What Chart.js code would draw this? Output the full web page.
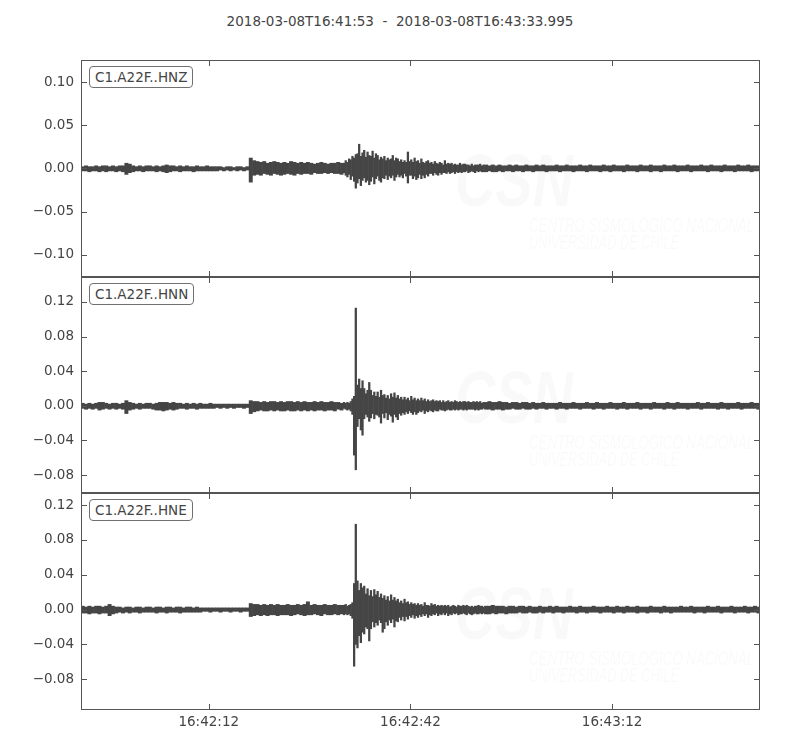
<!DOCTYPE html>
<html>
<head>
<meta charset="utf-8">
<script src="https://cdn.jsdelivr.net/npm/chart.js@4.4.1/dist/chart.umd.min.js"></script>
<style>
  html, body { margin: 0; padding: 0; background: #fff; overflow: hidden; }
  #wrap { position: relative; width: 800px; height: 750px; font-family: 'DejaVu Sans', sans-serif; color: #444; }
  .title { position: absolute; top: 13px; left: 0; width: 800px; text-align: center; font-size: 13.5px; line-height: 16px; white-space: pre; }
  .panel { position: absolute; left: 0; }
  .trace-lbl { position: absolute; left: 89px; font-size: 13.5px; line-height: 16px; padding: 2px 5px; border: 1px solid #707070; border-radius: 4px; background: #fff; z-index: 5; }
</style>
</head>
<body>
<div id="wrap">
  <div class="title">2018-03-08T16:41:53  -  2018-03-08T16:43:33.995</div>
</div>
<script>
// Min/max envelope of each trace, in units of 1e-3.
// Before 39 s and after 60 s: one bin per 0.5 s. The strong shaking in between: one bin per 0.25 s.
const COARSE_SEC = 0.5;
const FINE_SEC = 0.25;
const FINE_START = 39;
const FINE_END = 60;
const T_END = 100.995;

const xTickSec = [19, 49, 79];
const xTickLabels = ['16:42:12', '16:42:42', '16:43:12'];

const yTicksZ = [-0.10, -0.05, 0, 0.05, 0.10];
const yTicksNE = [-0.08, -0.04, 0, 0.04, 0.08, 0.12];

// ---- HNZ ----
const hnzPreHi = [
  2,3,2,2,3,2,3,3,2,3,2,3,3,6,5,3,2,3,2,3,
  3,2,3,2,3,4,3,3,2,3,2,3,2,2,3,2,2,3,2,2,
  2,2,1,2,2,1,2,2,1,2,12,9,8,7,8,6,7,8,7,6,
  7,6,8,7,6,7,6,7,6,5,6,7,6,5,6,6,7,6
];
const hnzPreLo = [
  -3,-3,-4,-3,-3,-4,-3,-4,-3,-3,-4,-3,-4,-7,-5,-4,-3,-3,-4,-3,
  -3,-3,-4,-3,-4,-5,-4,-3,-3,-4,-3,-3,-3,-4,-3,-3,-3,-3,-3,-3,
  -3,-2,-3,-2,-3,-2,-3,-2,-3,-2,-16,-8,-7,-8,-6,-7,-8,-6,-7,-8,
  -7,-6,-7,-8,-6,-7,-6,-6,-7,-5,-6,-6,-5,-6,-5,-6,-6,-7
];
const hnzFineHi = [
  6,9,7,11, 10,14,12,16, 17,28,14,18, 21,13,19,15, 14,20,12,17, 15,10,13,11,
  14,9,12,10, 11,15,9,12, 11,8,10,7, 9,7,19,8, 10,7,12,8, 9,6,11,7,
  6,8,9,6, 7,5,8,6, 5,7,6,4, 9,5,6,5, 6,4,5,4, 4,6,4,5, 5,4,4,3, 5,3,4,4, 4,5,3,4
];
const hnzFineLo = [
  -5,-8,-10,-7, -13,-9,-15,-23, -17,-12,-20,-14, -11,-16,-14,-19, -15,-10,-18,-12, -9,-14,-16,-11,
  -12,-8,-13,-9, -11,-8,-14,-10, -7,-10,-8,-11, -6,-9,-17,-8, -8,-12,-9,-13, -11,-7,-12,-8,
  -11,-7,-9,-6, -6,-8,-5,-7, -8,-5,-7,-5, -5,-6,-4,-6, -5,-4,-6,-4, -5,-4,-5,-4, -4,-3,-5,-4, -3,-4,-5,-3, -4,-3,-4,-4
];
const hnzPostHi = [
  4,3,4,3,4,3,3,4,3,4,3,3,4,3,3,4,3,4,3,3,
  3,4,3,3,4,3,3,3,4,3,3,4,3,3,3,4,3,3,4,3,
  3,3,4,3,3,3,4,3,3,4,3,3,3,4,3,3,4,3,3,3,
  4,3,3,3,4,3,3,4,3,3,3,4,3,3,3,4,3,3,4,3,
  3,3
];
const hnzPostLo = [
  -4,-3,-4,-4,-3,-4,-3,-3,-4,-3,-3,-4,-3,-3,-4,-3,-3,-3,-4,-3,
  -3,-3,-4,-3,-3,-3,-4,-3,-3,-3,-4,-3,-3,-3,-4,-3,-3,-4,-3,-3,
  -3,-4,-3,-3,-3,-4,-3,-3,-3,-4,-3,-3,-4,-3,-3,-3,-3,-4,-3,-3,
  -3,-4,-3,-3,-3,-3,-4,-3,-3,-3,-4,-3,-3,-3,-4,-3,-3,-3,-3,-4,
  -3,-3
];

// ---- HNN ----
const hnnPreHi = [
  3,2,3,2,3,4,4,3,2,3,3,2,3,6,4,3,2,3,2,3,
  3,2,3,4,4,4,3,4,3,3,2,3,2,3,2,3,2,2,3,2,
  2,2,2,2,2,2,2,2,2,2,6,5,5,4,5,4,5,5,4,5,
  4,5,5,4,5,4,5,4,4,5,4,5,4,4,5,4,4,3
];
const hnnPreLo = [
  -3,-4,-3,-4,-3,-5,-4,-3,-4,-3,-4,-3,-4,-9,-5,-4,-3,-4,-3,-3,
  -3,-4,-5,-5,-6,-5,-4,-5,-4,-3,-3,-4,-3,-3,-4,-3,-3,-3,-3,-3,
  -2,-3,-2,-3,-2,-3,-2,-2,-3,-2,-9,-7,-6,-5,-6,-6,-5,-6,-5,-6,
  -6,-5,-6,-6,-5,-6,-5,-6,-5,-6,-5,-5,-6,-5,-5,-6,-4,-5
];
const hnnFineHi = [
  4,3,4,3, 5,8,11,113, 24,31,20,29, 20,14,18,27, 18,12,16,11, 16,10,18,12,
  13,9,12,8, 14,10,15,9, 12,8,10,7, 10,7,9,6, 11,7,9,6, 8,6,9,6,
  8,5,7,5, 6,7,5,6, 5,6,4,6, 4,5,6,4, 5,4,6,5, 4,5,4,5, 5,4,5,4, 4,5,4,5, 4,5,3,4
];
const hnnFineLo = [
  -3,-4,-5,-4, -6,-10,-57,-74, -24,-15,-28,-34, -15,-10,-13,-18, -14,-9,-15,-10, -11,-13,-20,-9,
  -14,-8,-16,-10, -12,-19,-10,-13, -16,-9,-11,-8, -10,-7,-9,-6, -8,-10,-7,-10, -8,-6,-7,-5,
  -9,-6,-7,-5, -6,-7,-5,-6, -6,-4,-5,-5, -6,-5,-4,-5, -5,-4,-5,-4, -5,-4,-4,-5, -4,-5,-4,-4, -4,-4,-5,-4, -5,-4,-4,-3
];
const hnnPostHi = [
  4,5,4,4,5,4,4,3,4,4,3,4,4,3,4,3,3,4,3,3,
  3,3,4,3,3,3,4,3,3,3,4,3,3,4,3,3,3,4,3,3,
  3,4,3,3,3,4,3,3,3,3,4,3,3,3,4,3,3,4,3,3,
  3,3,3,4,3,3,4,3,3,3,4,3,3,3,3,4,3,3,3,4,
  3,3
];
const hnnPostLo = [
  -4,-4,-5,-4,-4,-5,-4,-4,-3,-4,-4,-3,-4,-4,-3,-4,-3,-3,-4,-3,
  -3,-4,-3,-3,-4,-3,-3,-3,-4,-3,-3,-3,-4,-3,-3,-4,-3,-3,-3,-4,
  -3,-3,-4,-3,-3,-3,-4,-3,-3,-4,-3,-3,-3,-4,-3,-3,-4,-3,-3,-3,
  -4,-3,-3,-3,-4,-3,-3,-3,-3,-4,-3,-3,-4,-3,-3,-3,-4,-3,-3,-3,
  -3,-4
];

// ---- HNE ----
const hnePreHi = [
  4,3,4,3,4,4,3,4,6,4,3,3,2,3,3,2,3,3,2,3,
  3,2,3,3,2,3,3,2,3,3,2,3,3,2,3,2,2,2,2,2,
  2,2,2,2,2,2,2,2,2,2,7,6,6,5,6,5,6,5,6,5,
  5,6,5,5,6,5,6,9,5,6,5,5,6,5,5,6,5,5
];
const hnePreLo = [
  -4,-4,-5,-4,-4,-5,-4,-4,-7,-5,-4,-3,-4,-3,-4,-3,-3,-4,-3,-3,
  -3,-3,-4,-3,-3,-4,-3,-3,-3,-4,-3,-3,-3,-3,-3,-3,-2,-2,-3,-2,
  -2,-3,-2,-2,-3,-2,-2,-3,-2,-2,-8,-7,-6,-7,-6,-7,-6,-6,-7,-6,
  -6,-6,-7,-6,-5,-6,-7,-6,-6,-5,-6,-7,-5,-6,-6,-5,-6,-5
];
const hneFineHi = [
  5,6,4,5, 6,8,30,98, 33,22,30,25, 27,18,24,16, 22,15,23,17, 21,14,18,13,
  16,11,15,10, 17,11,14,10, 12,8,10,7, 12,8,9,6, 8,6,7,5, 7,5,6,4,
  8,5,5,4, 7,5,6,4, 5,4,5,4, 5,4,5,3, 4,5,4,3, 5,4,4,5, 4,5,4,3, 4,3,4,4, 5,4,4,3
];
const hneFineLo = [
  -6,-5,-6,-5, -7,-10,-65,-40, -44,-30,-38,-26, -28,-20,-22,-36, -22,-14,-20,-15, -18,-12,-15,-26,
  -22,-14,-18,-12, -15,-11,-20,-13, -14,-9,-12,-8, -13,-8,-11,-7, -9,-6,-10,-7, -9,-6,-8,-5,
  -7,-5,-9,-6, -7,-5,-6,-4, -7,-5,-6,-4, -6,-4,-7,-5, -6,-4,-5,-4, -6,-5,-5,-4, -5,-6,-4,-5, -6,-5,-4,-5, -5,-4,-5,-4
];
const hnePostHi = [
  4,4,5,4,4,4,3,4,4,3,4,4,3,4,3,3,4,3,3,4,
  3,4,3,3,3,4,3,3,4,3,3,3,4,3,3,3,4,3,3,4,
  3,3,4,3,3,4,3,3,3,4,3,3,3,4,3,3,3,3,4,3,
  3,4,3,3,3,3,4,3,3,4,3,3,3,4,3,3,3,4,3,3,
  4,3
];
const hnePostLo = [
  -5,-5,-4,-5,-4,-4,-5,-4,-4,-4,-3,-4,-4,-3,-4,-4,-3,-4,-3,-3,
  -4,-3,-3,-4,-3,-3,-3,-4,-3,-3,-4,-3,-3,-3,-4,-3,-3,-3,-4,-3,
  -3,-4,-3,-3,-3,-4,-3,-3,-4,-3,-3,-3,-4,-3,-3,-4,-3,-3,-3,-3,
  -3,-3,-4,-3,-3,-4,-3,-3,-3,-3,-4,-3,-3,-3,-4,-3,-3,-3,-4,-3,
  -3,-4
];

const FONT = "'DejaVu Sans', sans-serif";
const TXT = '#444';
const WAVE = '#454545';
const FRAME = '#555';
const PAD = 16;

const traces = [
  { id: 'C1.A22F..HNZ', pre: [hnzPreHi, hnzPreLo], fine: [hnzFineHi, hnzFineLo], post: [hnzPostHi, hnzPostLo],
    yMin: -0.1258, yMax: 0.1255, yTicks: yTicksZ, top: 60, h: 217 },
  { id: 'C1.A22F..HNN', pre: [hnnPreHi, hnnPreLo], fine: [hnnFineHi, hnnFineLo], post: [hnnPostHi, hnnPostLo],
    yMin: -0.1008, yMax: 0.1489, yTicks: yTicksNE, top: 277, h: 216 },
  { id: 'C1.A22F..HNE', pre: [hnePreHi, hnePreLo], fine: [hneFineHi, hneFineLo], post: [hnePostHi, hnePostLo],
    yMin: -0.1152, yMax: 0.1338, yTicks: yTicksNE, top: 493, h: 217 },
];

// min-max bars, like obspy draws long traces: one floating bar per bin
function bins([hi, lo], t0, step) {
  return hi.map((h, i) => ({ x: t0 + i * step + step / 2, y: [lo[i] / 1000, h / 1000] }));
}

function fmtY(v) {
  const s = Math.abs(v).toFixed(2);
  return v < -1e-9 ? '\u2212' + s : s;
}

function squashText(ctx, text, x, y, w) {
  const m = ctx.measureText(text).width;
  ctx.save();
  ctx.translate(x, y);
  ctx.scale(w / m, 1);
  ctx.fillText(text, 0, 0);
  ctx.restore();
}

// faint CSN watermark behind the trace
const csnMark = {
  id: 'csnMark',
  beforeDatasetsDraw(chart) {
    const { ctx, chartArea: a } = chart;
    ctx.save();
    ctx.fillStyle = 'rgba(0,0,0,0.022)';
    ctx.font = 'italic bold 74px "Liberation Sans"';
    squashText(ctx, 'CSN', a.left + 374, a.top + 146, 118);
    ctx.font = 'italic 20px "Liberation Sans"';
    squashText(ctx, 'CENTRO SISMOLÓGICO NACIONAL', a.left + 448, a.top + 172, 225);
    squashText(ctx, 'UNIVERSIDAD DE CHILE', a.left + 448, a.top + 189, 150);
    ctx.restore();
  }
};

// box round the axes with inward ticks on all four sides
const frameTicks = {
  id: 'frameTicks',
  afterDraw(chart) {
    const { ctx, chartArea: a, scales: { x, y } } = chart;
    const L = Math.round(a.left) + 0.5, R = Math.round(a.right) - 0.5;
    const T = Math.round(a.top) + 0.5, B = Math.round(a.bottom) - 0.5;
    const len = 5.5;
    ctx.save();
    ctx.strokeStyle = FRAME;
    ctx.lineWidth = 1;
    ctx.strokeRect(L, T, R - L, B - T);
    ctx.beginPath();
    x.ticks.forEach(t => {
      const px = Math.round(x.getPixelForValue(t.value)) + 0.5;
      ctx.moveTo(px, T); ctx.lineTo(px, T + len);
      ctx.moveTo(px, B); ctx.lineTo(px, B - len);
    });
    y.ticks.forEach(t => {
      const py = Math.round(y.getPixelForValue(t.value)) + 0.5;
      ctx.moveTo(L, py); ctx.lineTo(L + len, py);
      ctx.moveTo(R, py); ctx.lineTo(R - len, py);
    });
    ctx.stroke();
    ctx.restore();
  }
};

function renderTrace(wrap, tr, isLast) {
  const axisH = isLast ? 40 : 0;
  const canvasTop = tr.top - PAD;
  const canvasH = PAD + tr.h + (isLast ? axisH : PAD);

  const canvas = document.createElement('canvas');
  canvas.className = 'panel';
  canvas.width = 800;
  canvas.height = canvasH;
  canvas.style.top = canvasTop + 'px';
  canvas.style.width = '800px';
  canvas.style.height = canvasH + 'px';
  wrap.appendChild(canvas);

  const lbl = document.createElement('div');
  lbl.className = 'trace-lbl';
  lbl.style.top = (tr.top + 6) + 'px';
  lbl.textContent = tr.id;
  wrap.appendChild(lbl);

  const coarse = bins(tr.pre, 0, COARSE_SEC).concat(bins(tr.post, FINE_END, COARSE_SEC));
  const fine = bins(tr.fine, FINE_START, FINE_SEC);
  const barStyle = { backgroundColor: WAVE, borderWidth: 0, categoryPercentage: 1, grouped: false, inflateAmount: 0.3 };

  new Chart(canvas.getContext('2d'), {
    type: 'bar',
    data: {
      datasets: [
        // bar width follows the 0.25 s spacing, so the half-second bins are drawn twice as wide
        { ...barStyle, data: coarse, barPercentage: COARSE_SEC / FINE_SEC },
        { ...barStyle, data: fine, barPercentage: 1 },
      ],
    },
    options: {
      responsive: false,
      animation: false,
      events: [],
      layout: { padding: { top: PAD, bottom: isLast ? 0 : PAD, left: 0, right: 40 } },
      plugins: { legend: { display: false }, tooltip: { enabled: false } },
      scales: {
        x: {
          type: 'linear',
          min: 0,
          max: T_END,
          offset: false,
          grid: { display: false, drawTicks: false, offset: false },
          border: { display: false },
          afterBuildTicks: (s) => { s.ticks = xTickSec.map(v => ({ value: v })); },
          afterFit: (s) => { s.height = axisH; },
          ticks: {
            display: isLast,
            padding: 4,
            maxRotation: 0,
            color: TXT,
            font: { family: FONT, size: 13.5 },
            callback: (v) => xTickLabels[xTickSec.indexOf(v)],
          },
        },
        y: {
          min: tr.yMin,
          max: tr.yMax,
          grid: { display: false, drawTicks: false },
          border: { display: false },
          afterBuildTicks: (s) => { s.ticks = tr.yTicks.map(v => ({ value: v })); },
          afterFit: (s) => { s.width = 81; },
          ticks: {
            padding: 7,
            color: TXT,
            font: { family: FONT, size: 13.5 },
            callback: (v) => fmtY(v),
          },
        },
      },
    },
    plugins: [csnMark, frameTicks],
  });
}

const wrap = document.getElementById('wrap');
traces.forEach((tr, i) => renderTrace(wrap, tr, i === traces.length - 1));
</script>
</body>
</html>
